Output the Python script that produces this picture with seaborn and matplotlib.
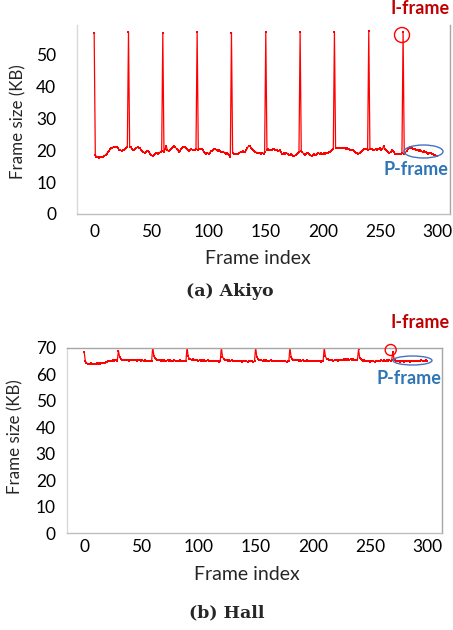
import matplotlib
matplotlib.use("Agg")
import matplotlib.pyplot as plt
from matplotlib.patches import Ellipse
import seaborn as sns
import pandas as pd

# ---------------- data ----------------
akiyo_iframe = [57.0, 57.3, 56.8, 57.3, 57.0, 57.2, 57.1, 57.1, 57.5, 57.2]
akiyo_p = [
    [18.6, 18.0, 17.8, 17.7, 17.8, 17.8, 17.9, 18.0, 18.3, 18.6, 19.0, 19.5, 19.9, 20.3, 20.6,
     20.9, 21.1, 21.2, 21.1, 21.0, 20.6, 20.2, 20.0, 19.9, 20.0, 20.1, 20.3, 20.8, 21.1],
    [21.2, 21.0, 20.4, 20.0, 20.1, 20.5, 20.8, 21.0, 20.9, 20.6, 20.2, 19.8, 19.5, 19.3, 19.4,
     19.8, 19.9, 19.5, 19.0, 18.4, 18.2, 18.4, 18.8, 19.1, 19.3, 19.0, 19.2, 19.6, 19.9],
    [19.6, 20.4, 21.4, 20.0, 19.8, 20.1, 20.5, 20.9, 21.2, 21.3, 21.0, 20.5, 20.0, 19.6, 19.9,
     20.4, 20.8, 21.1, 21.0, 20.7, 20.4, 20.1, 19.9, 20.1, 20.3, 20.2, 20.0, 20.2, 20.4],
    [20.2, 20.4, 20.3, 20.4, 20.0, 19.4, 19.1, 19.0, 19.2, 19.0, 19.3, 19.7, 19.9, 20.2, 20.5,
     20.4, 20.0, 19.8, 20.1, 19.9, 19.5, 19.4, 19.6, 19.3, 19.0, 19.1, 18.8, 18.5, 18.0],
    [19.2, 18.9, 18.8, 19.0, 18.9, 19.0, 19.3, 19.6, 19.5, 19.7, 19.4, 19.5, 20.0, 20.8, 21.4,
     21.3, 20.9, 20.5, 20.1, 19.8, 19.6, 19.3, 19.1, 19.3, 19.1, 19.0, 19.2, 19.0, 19.4],
    [20.2, 20.3, 20.1, 20.2, 20.0, 20.3, 20.4, 20.1, 20.2, 20.0, 19.8, 20.0, 19.4, 19.0, 18.9,
     19.1, 19.0, 19.2, 19.0, 18.7, 18.6, 18.8, 18.5, 18.3, 18.2, 18.5, 18.9, 19.2, 19.6],
    [19.7, 19.4, 19.0, 18.6, 18.8, 19.3, 19.2, 18.8, 18.4, 18.2, 18.5, 18.9, 18.7, 18.6, 19.0,
     19.2, 19.0, 19.1, 18.9, 19.0, 19.1, 19.0, 19.3, 19.2, 19.5, 19.6, 19.9, 20.2, 20.3],
    [20.6, 20.8, 20.6, 20.9, 20.7, 20.8, 20.6, 20.8, 20.7, 20.5, 20.6, 20.3, 20.4, 20.1, 20.0,
     20.2, 19.8, 19.6, 19.3, 19.1, 19.0, 19.3, 19.6, 19.9, 20.2, 20.4, 20.3, 20.5, 20.2],
    [20.5, 20.3, 20.4, 20.2, 20.1, 20.3, 20.2, 20.4, 20.3, 20.6, 20.1, 20.4, 21.5, 20.3, 20.0,
     19.8, 19.4, 19.2, 19.5, 20.0, 19.8, 19.4, 19.0, 18.9, 19.0, 18.8, 19.0, 18.9, 19.1],
    [19.0, 19.3, 19.8, 20.3, 20.7, 21.0, 20.8, 20.6, 20.5, 20.3, 20.1, 20.2, 20.0, 19.8, 20.0,
     19.7, 19.5, 19.7, 19.4, 19.6, 19.3, 19.0, 19.2, 19.3, 19.0, 18.8, 18.6, 18.4, 18.3, 18.2],
]

hall_iframe = [68.5, 69.0, 70.5, 70.3, 70.2, 70.2, 70.1, 70.2, 69.5, 68.6]
hall_p = [
    [65.2, 64.4, 64.1, 63.9, 64.0, 64.2, 63.8, 64.1, 64.0, 63.9, 64.2, 64.1, 64.3, 64.0, 64.2,
     64.4, 64.5, 64.4, 64.7, 64.8, 64.9, 65.1, 65.0, 65.2, 65.3, 65.1, 65.4, 65.3, 65.2],
    [66.6, 65.8, 65.5, 65.4, 65.6, 65.3, 65.5, 65.4, 65.2, 65.5, 65.3, 65.6, 65.4, 65.3, 65.5,
     65.2, 65.4, 65.3, 65.5, 65.1, 65.3, 65.2, 65.4, 65.1, 65.0, 65.2, 64.9, 65.1, 64.9],
    [66.9, 66.1, 65.7, 65.5, 65.3, 65.6, 65.2, 65.4, 65.1, 65.3, 65.0, 65.2, 65.4, 65.1, 65.3,
     65.0, 65.2, 64.9, 65.3, 65.1, 65.2, 64.9, 65.1, 65.3, 65.0, 65.2, 64.9, 65.1, 65.0],
    [66.8, 66.0, 65.8, 65.6, 65.7, 65.4, 65.6, 65.3, 65.5, 65.2, 65.4, 65.1, 65.3, 65.2, 65.4,
     65.0, 65.2, 65.3, 65.1, 65.2, 64.9, 65.1, 65.2, 65.0, 65.1, 64.9, 65.0, 64.8, 64.9],
    [66.7, 65.9, 65.6, 65.4, 65.5, 65.2, 65.3, 65.1, 65.3, 65.0, 65.2, 64.9, 65.1, 65.0, 65.2,
     64.9, 65.1, 64.8, 65.0, 65.1, 64.9, 65.0, 64.8, 65.0, 65.1, 64.9, 65.0, 64.8, 65.0],
    [66.6, 65.9, 65.5, 65.3, 65.4, 65.2, 65.4, 65.1, 65.3, 65.0, 65.2, 65.1, 65.3, 65.0, 65.2,
     64.9, 65.1, 65.2, 65.0, 65.1, 64.9, 65.1, 65.0, 65.2, 64.9, 65.0, 64.8, 65.0, 64.9],
    [66.7, 66.0, 65.6, 65.4, 65.5, 65.3, 65.4, 65.1, 65.3, 65.2, 65.4, 65.0, 65.2, 65.1, 65.3,
     65.0, 65.2, 64.9, 65.1, 65.0, 65.2, 64.9, 65.1, 65.0, 64.9, 65.1, 64.8, 65.0, 64.9],
    [66.8, 66.0, 65.7, 65.5, 65.6, 65.3, 65.5, 65.2, 65.4, 65.3, 65.5, 65.2, 65.4, 65.3, 65.6,
     65.4, 65.7, 65.5, 65.8, 65.6, 65.7, 65.5, 65.8, 65.6, 65.7, 65.5, 65.6, 65.4, 65.3],
    [66.3, 65.7, 65.4, 65.2, 65.3, 65.0, 65.2, 64.9, 65.1, 64.8, 65.0, 64.9, 65.1, 64.8, 65.0,
     65.1, 64.9, 65.2, 65.0, 65.3, 65.1, 65.4, 65.2, 65.0, 65.3, 65.1, 65.4, 65.2, 65.3],
    [66.0, 65.4, 65.1, 64.9, 65.0, 64.8, 65.0, 64.9, 65.1, 64.8, 65.0, 65.1, 64.9, 65.0, 64.8,
     65.1, 64.9, 65.2, 65.0, 65.1, 64.9, 65.2, 65.0, 65.1, 65.3, 65.1, 65.2, 65.0, 65.3, 65.2],
]

x_ticks = [0, 50, 100, 150, 200, 250, 300]
akiyo_yticks = [0, 10, 20, 30, 40, 50]
hall_yticks = [0, 10, 20, 30, 40, 50, 60, 70]


def build(iframes, pgops):
    vals = []
    for i_val, gop in zip(iframes, pgops):
        vals.append(i_val)
        vals.extend(gop)
    return pd.DataFrame({"frame": range(len(vals)), "size": vals})


akiyo_df = build(akiyo_iframe, akiyo_p)
hall_df = build(hall_iframe, hall_p)

# ---------------- style ----------------
sns.set_style("white")
plt.rcParams["font.family"] = ["Lato", "DejaVu Sans"]

W, H = 453, 630
fig = plt.figure(figsize=(W / 100, H / 100), dpi=100)


def px_axes(l, t, r, b):
    return fig.add_axes([l / W, 1 - b / H, (r - l) / W, (b - t) / H])


def style(ax, df, ylim, yticks, xlim, show_top, ypad, xpad,
          ylab_x, ylab_y, xlab_x, xlab_y):
    sns.lineplot(data=df, x="frame", y="size", ax=ax, color="#FF0000",
                 linewidth=0.9, marker="s", markersize=1.7, markeredgewidth=0)
    ax.set_xlim(*xlim)
    ax.set_ylim(*ylim)
    ax.set_xticks(x_ticks)
    ax.set_yticks(yticks)
    ax.tick_params(axis="y", length=0, pad=ypad, labelsize=12.5, labelcolor="black")
    ax.tick_params(axis="x", length=3, direction="in", color="#bfbfbf", pad=xpad,
                   labelsize=12.5, labelcolor="black")
    for s in ["left", "bottom", "right", "top"]:
        ax.spines[s].set_visible(True)
        ax.spines[s].set_linewidth(1.0)
    ax.spines["left"].set_color("#d9d9d9")
    ax.spines["bottom"].set_color("#bfbfbf")
    ax.spines["right"].set_color("#a6a6a6")
    ax.spines["top"].set_color("#a6a6a6")
    ax.spines["top"].set_visible(show_top)
    ax.set_xlabel("Frame index", fontsize=14)
    ax.set_ylabel("Frame size (KB)", fontsize=12.2)
    ax.xaxis.set_label_coords(xlab_x, xlab_y)
    ax.xaxis.label.set_va("center")
    ax.yaxis.set_label_coords(ylab_x, ylab_y)
    ax.yaxis.label.set_va("center")


ax1 = px_axes(77, 25, 450, 214)
style(ax1, akiyo_df, (0, 59.4), akiyo_yticks, (-15, 311), False, 15, 7,
      -0.158, 0.49, 0.485, -0.233)

ax2 = px_axes(67, 348, 442, 533)
style(ax2, hall_df, (0, 70), hall_yticks, (-15, 313), True, 8, 4,
      -0.137, 0.52, 0.48, -0.222)


def ftext(x, y, s, **kw):
    fig.text(x / W, 1 - y / H, s, ha="center", va="center", **kw)


def fellipse(cx, cy, w, h, color):
    fig.add_artist(Ellipse((cx / W, 1 - cy / H), w / W, h / H, transform=fig.transFigure,
                           fill=False, edgecolor=color, linewidth=1.0))


# annotations top
ftext(420, 9, "I-frame", color="#C00000", fontsize=13, fontweight="bold")
ftext(416, 170, "P-frame", color="#2E75B6", fontsize=13, fontweight="bold")
fellipse(402, 35, 15, 15, "#FF0000")
fellipse(423.5, 151.5, 39, 13, "#4472C4")

# annotations bottom
ftext(420, 322, "I-frame", color="#C00000", fontsize=13, fontweight="bold")
ftext(408.5, 378, "P-frame", color="#2E75B6", fontsize=13, fontweight="bold")
fellipse(390.7, 350, 11, 11, "#FF0000")
fellipse(412.5, 360.5, 39, 9, "#4472C4")

# captions
ftext(230, 292, "(a) Akiyo", fontsize=12.5, fontweight="bold",
      family=["DejaVu Serif"])
ftext(227, 613, "(b) Hall", fontsize=12.5, fontweight="bold",
      family=["DejaVu Serif"])

fig.savefig("out.png", dpi=100)
